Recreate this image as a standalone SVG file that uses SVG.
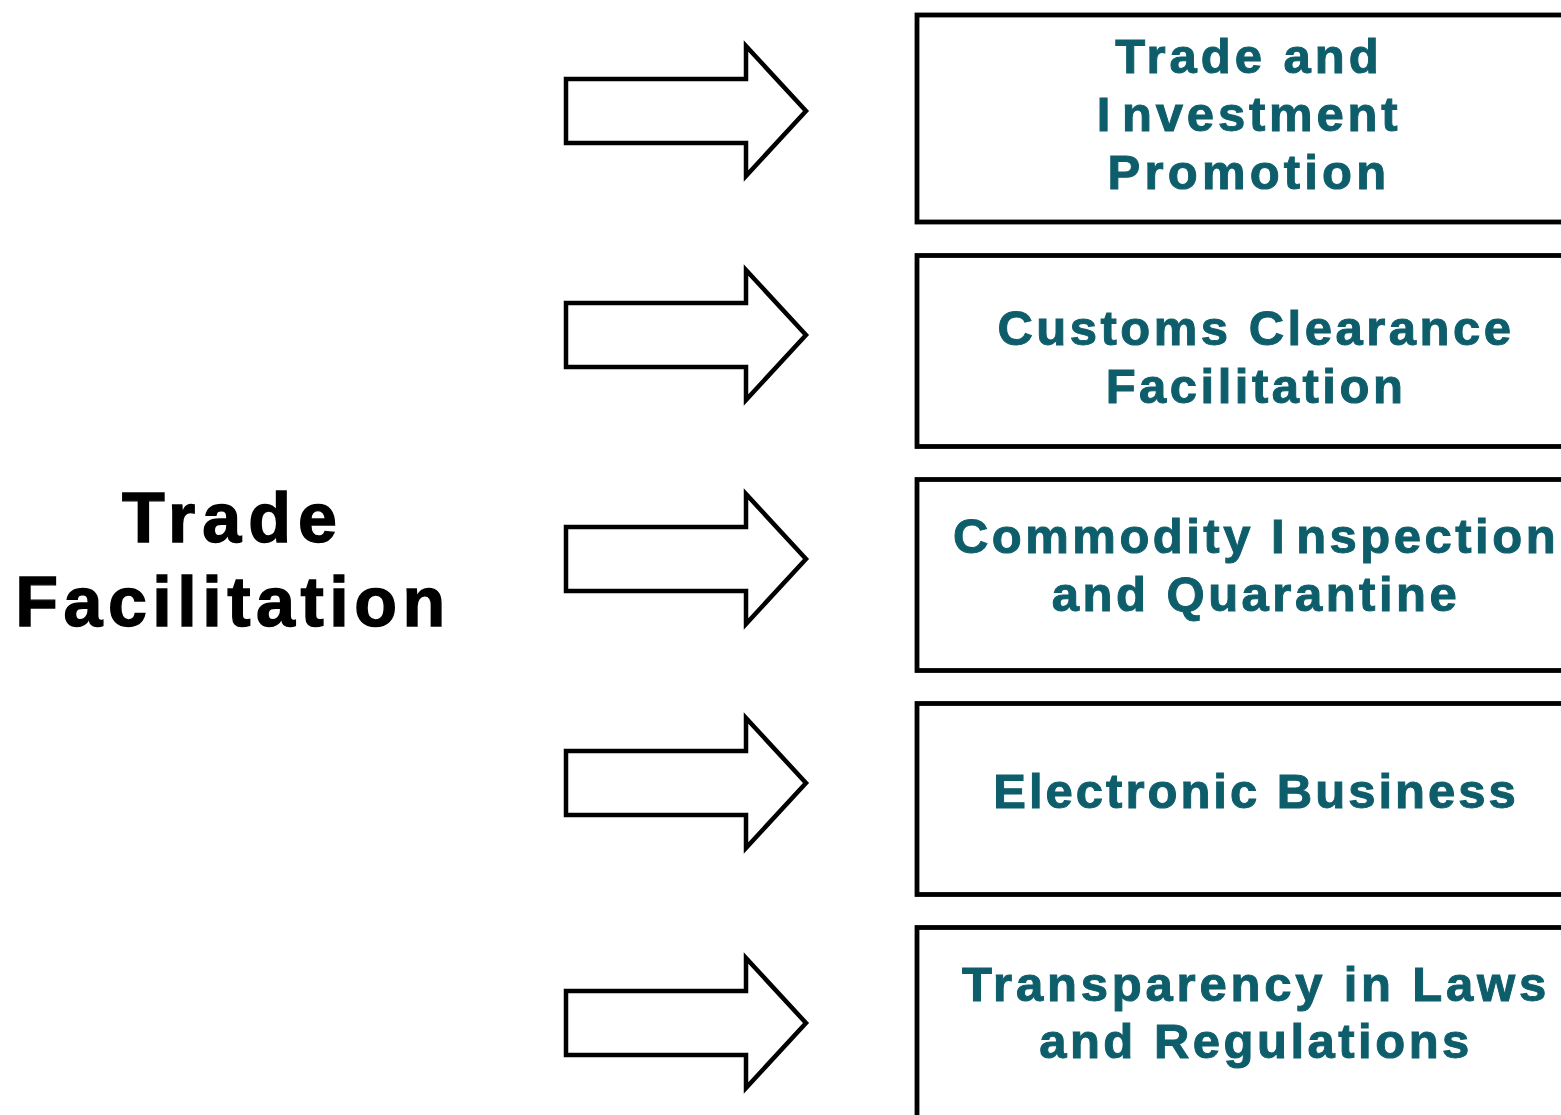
<svg xmlns="http://www.w3.org/2000/svg" width="1561" height="1115" viewBox="0 0 1561 1115">
  <style>
    .box { fill: #ffffff; stroke: #000000; stroke-width: 4.8; }
    .arrow { fill: #ffffff; stroke: #000000; stroke-width: 4.5; stroke-linejoin: miter; stroke-miterlimit: 10; }
    .label { font-family: "Liberation Sans", Arial, sans-serif; font-weight: bold; font-size: 49px; letter-spacing: 3.5px; fill: #0e5d6b; stroke: #0e5d6b; stroke-width: 1px; text-anchor: middle; }
    .title { font-family: "Liberation Sans", Arial, sans-serif; font-weight: bold; font-size: 70px; letter-spacing: 5.5px; fill: #000000; stroke: #000000; stroke-width: 1.4px; text-anchor: middle; }
  </style>
  <defs>
    <!-- block arrow centred on y=0, body from x=566 to the tip at x=806 -->
    <polygon id="blockArrow" points="566,-32 746,-32 746,-65 806,0 746,65 746,32 566,32"/>
  </defs>
  <rect width="1561" height="1115" fill="#ffffff"/>

  <g id="trade-facilitation">
    <text class="title" x="233" y="542" style="letter-spacing:7px">Trade</text>
    <text class="title" x="233" y="626">Facilitation</text>
  </g>

  <g id="connectors">
    <use href="#blockArrow" class="arrow" transform="translate(0,111)"/>
    <use href="#blockArrow" class="arrow" transform="translate(0,335)"/>
    <use href="#blockArrow" class="arrow" transform="translate(0,559)"/>
    <use href="#blockArrow" class="arrow" transform="translate(0,783)"/>
    <use href="#blockArrow" class="arrow" transform="translate(0,1023)"/>
  </g>

  <g id="trade-investment-promotion">
    <rect class="box" x="917" y="15" width="660" height="207"/>
    <text class="label" x="1249" y="73" style="letter-spacing:4px">Trade and</text>
    <text class="label" x="1249" y="131" style="letter-spacing:3.8px">I<tspan dx="8">nvestment</tspan></text>
    <text class="label" x="1249" y="189" style="letter-spacing:4.2px">Promotion</text>
  </g>

  <g id="customs-clearance">
    <rect class="box" x="917" y="255.5" width="660" height="191"/>
    <text class="label" x="1256" y="345">Customs Clearance</text>
    <text class="label" x="1256" y="403">Facilitation</text>
  </g>

  <g id="commodity-inspection">
    <rect class="box" x="917" y="479.5" width="660" height="191"/>
    <text class="label" x="1256" y="553">Commodity I<tspan dx="8">nspection</tspan></text>
    <text class="label" x="1256" y="611">and Quarantine</text>
  </g>

  <g id="electronic-business">
    <rect class="box" x="917" y="703.5" width="660" height="191"/>
    <text class="label" x="1256" y="808" style="letter-spacing:3px">Electronic Business</text>
  </g>

  <g id="transparency">
    <rect class="box" x="917" y="927.5" width="660" height="220"/>
    <text class="label" x="1256" y="1001" style="letter-spacing:3.8px">Transparency in Laws</text>
    <text class="label" x="1256" y="1058">and Regulations</text>
  </g>
</svg>
